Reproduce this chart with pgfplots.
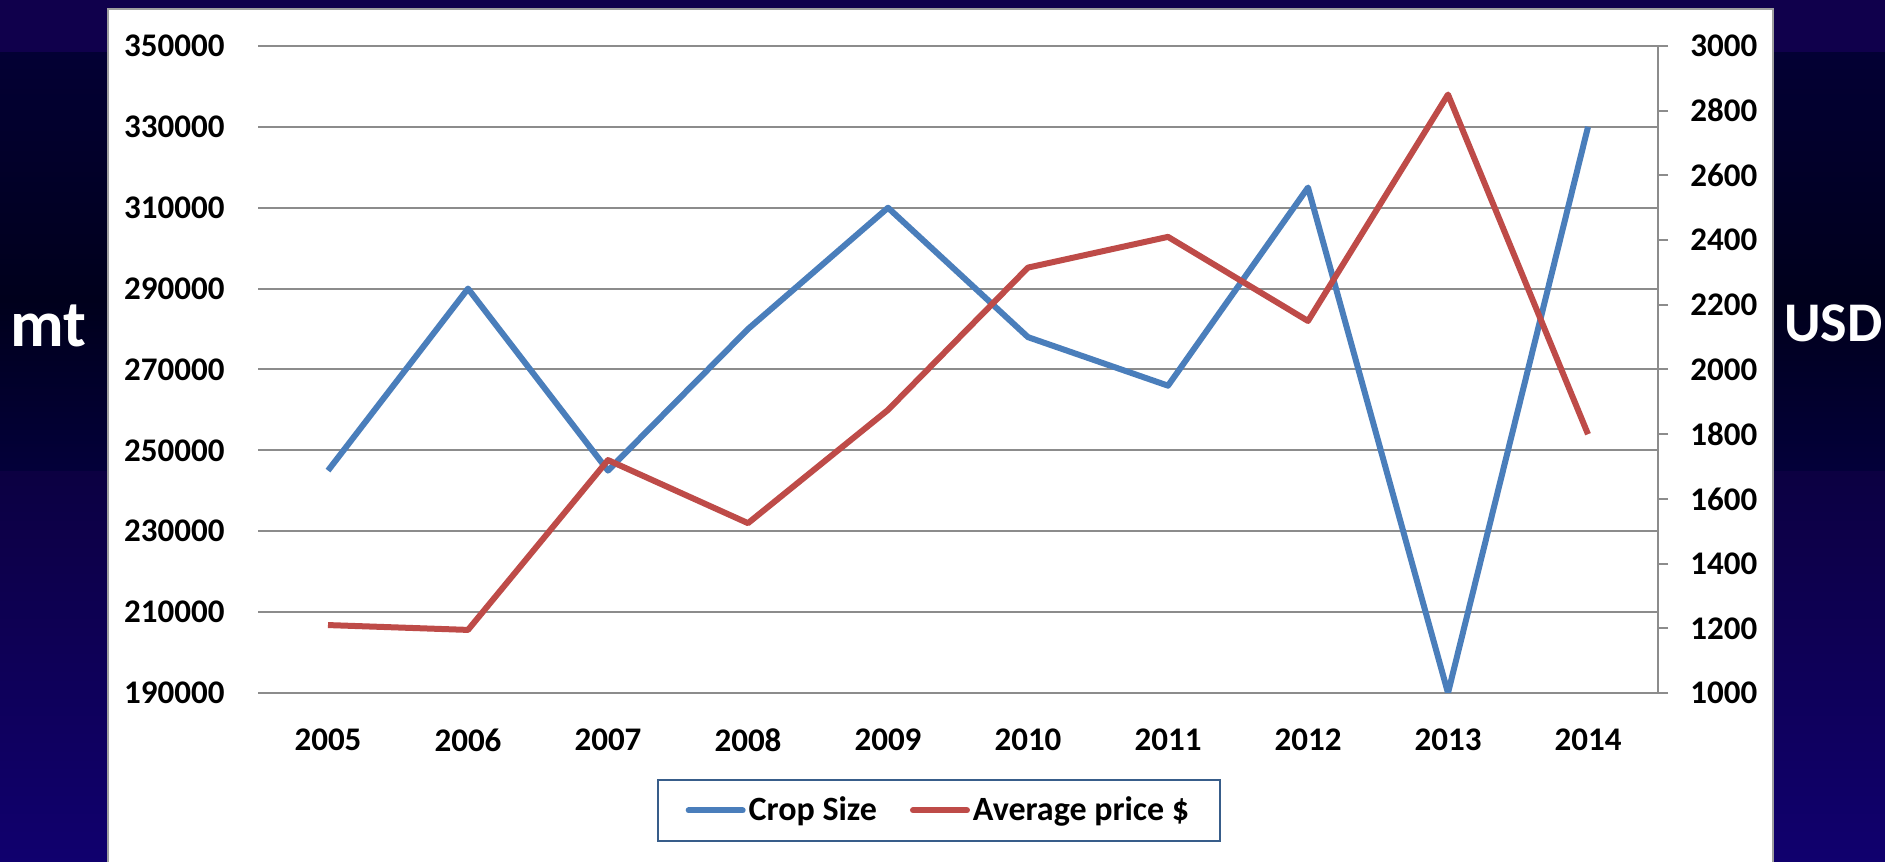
\documentclass[border=0pt]{standalone}
\usepackage{pgfplots}
\pgfplotsset{compat=1.18}
\usepackage{fontspec}
\setmainfont{Carlito}
\definecolor{cblue}{HTML}{4A7EBB}
\definecolor{cred}{HTML}{BE4B48}
\definecolor{gridc}{HTML}{8C8C8C}
\definecolor{legc}{HTML}{385D8A}
\definecolor{bgtop}{HTML}{10004C}
\definecolor{bgA}{HTML}{030034}
\definecolor{bgB}{HTML}{00001C}
\definecolor{bgC}{HTML}{03003A}
\definecolor{bgD}{HTML}{0C0042}
\definecolor{bgE}{HTML}{10006E}
\begin{document}
\begin{tikzpicture}
\useasboundingbox (0,0) rectangle (942.5pt,431pt);
\fill[bgtop] (0,404.5pt) rectangle (942.5pt,431pt);
\shade[top color=bgA, bottom color=bgB] (0,281pt) rectangle (942.5pt,404.5pt);
\shade[top color=bgB, bottom color=bgC] (0,195pt) rectangle (942.5pt,281pt);
\shade[top color=bgD, bottom color=bgE] (0,0) rectangle (942.5pt,195pt);
\filldraw[fill=white, draw=gray!75, line width=1.2pt] (54pt,-5pt) rectangle (886.5pt,426.5pt);
\node[white, font=\fontsize{33}{38}\bfseries\selectfont] at (24pt,268pt) {mt};
\node[white, anchor=east, inner sep=0pt, font=\fontsize{28}{34}\bfseries\selectfont] at (941.5pt,269.5pt) {USD};
\begin{axis}[
  at={(129pt,84.5pt)}, anchor=south west,
  scale only axis, width=700pt, height=323.5pt,
  xmin=-0.5, xmax=9.5, ymin=190000, ymax=350000,
  xtick={0,...,9}, xticklabels={2005,2006,2007,2008,2009,2010,2011,2012,2013,2014},
  ytick={190000,210000,...,350000},
  scaled y ticks=false,
  /pgf/number format/fixed, /pgf/number format/1000 sep={}, /pgf/number format/precision=0,
  /pgf/number format/assume math mode=true,
  ymajorgrids, grid style={gridc, line width=1pt},
  axis line style={draw=none},
  major tick length=0pt,
  tick label style={font=\fontsize{16.5}{19}\bfseries\selectfont, inner sep=0pt},
  y tick label style={anchor=east, xshift=-16.5pt},
  x tick label style={anchor=north, yshift=-17.75pt},
]
\addplot[cblue, line width=3pt, line join=round] coordinates {
(0,245000) (1,290000) (2,245000) (3,280000) (4,310000)
(5,278000) (6,266000) (7,315000) (8,190000) (9,330000)};
\end{axis}
\begin{axis}[
  at={(129pt,84.5pt)}, anchor=south west,
  scale only axis, width=700pt, height=323.5pt,
  xmin=-0.5, xmax=9.5, ymin=1000, ymax=3000,
  ytick={1000,1200,...,3000},
  axis y line*=right, axis x line=none,
  y axis line style={gridc, line width=1pt},
  ytick style={gridc, line width=1pt},
  tick align=outside, major tick length=5pt,
  /pgf/number format/fixed, /pgf/number format/1000 sep={}, /pgf/number format/precision=0,
  /pgf/number format/assume math mode=true,
  tick label style={font=\fontsize{16.5}{19}\bfseries\selectfont, inner sep=0pt},
  y tick label style={anchor=west, xshift=11pt},
  legend columns=2,
  legend style={at={(0.4864,-0.1329)}, anchor=north, draw=legc, line width=1pt,
    fill=white, font=\fontsize{17}{20}\bfseries\selectfont,
    inner xsep=14pt, inner ysep=7pt,
    nodes={inner sep=1.5pt},
    /tikz/every even column/.append style={column sep=15pt}},
  legend image code/.code={\draw[#1, line cap=round] (0pt,0pt) -- (27pt,0pt);},
]
\addlegendimage{cblue, line width=3pt}
\addlegendentry{Crop Size}
\addplot[cred, line width=3pt, line join=round] coordinates {
(0,1210) (1,1195) (2,1720) (3,1525) (4,1875)
(5,2315) (6,2410) (7,2150) (8,2850) (9,1800)};
\addlegendentry{Average price \$}
\end{axis}
\end{tikzpicture}
\end{document}
